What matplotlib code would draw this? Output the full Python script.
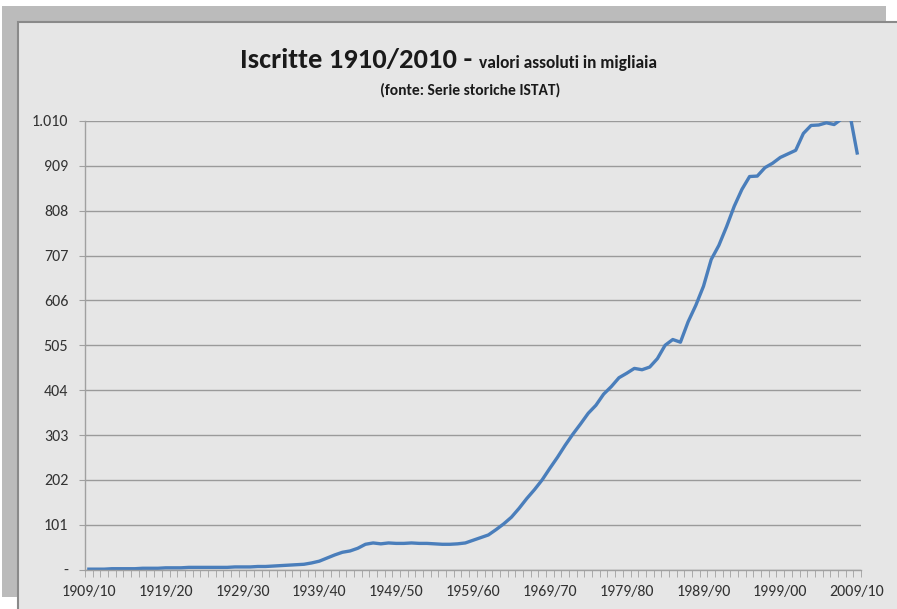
import matplotlib
matplotlib.use("Agg")
import matplotlib.pyplot as plt
from matplotlib import font_manager
from matplotlib.patches import Rectangle
from matplotlib.ticker import FixedLocator, FuncFormatter

# anni scolastici 1909/10 ... 2009/10
anni = ["%d/%02d" % (y, (y + 1) % 100) for y in range(1909, 2010)]

# iscritte, valori assoluti in migliaia
iscritte = [
    1, 1, 1, 2, 2, 2, 2, 3, 3, 3,
    4, 4, 4, 5, 5, 5, 5, 5, 5, 6,
    6, 6, 7, 7, 8, 9, 10, 11, 12, 15,
    19, 26, 33, 39, 42, 48, 57, 60, 58, 60,
    59, 59, 60, 59, 59, 58, 57, 57, 58, 60,
    66, 72, 78, 90, 103, 118, 138, 160, 180, 202,
    228, 253, 280, 305, 328, 352, 370, 395, 412, 432,
    442, 453, 450, 456, 475, 505, 518, 512, 558, 595,
    638, 698, 730, 772, 818, 856, 885, 886, 905, 915,
    928, 936, 944, 982, 1000, 1001, 1006, 1002, 1015, 1030,
    938,
]

y_ticks = [0, 101, 202, 303, 404, 505, 606, 707, 808, 909, 1010]

# un font tipo Calibri, se c'e'
installed = set(f.name for f in font_manager.fontManager.ttflist)
font = "DejaVu Sans"
for name in ["Carlito", "Liberation Sans Narrow", "PT Sans Narrow",
             "Archivo Narrow", "Open Sans Condensed", "Lato"]:
    if name in installed:
        font = name
        break
plt.rcParams['font.family'] = [font, 'DejaVu Sans']

W, H = 897, 609
fig = plt.figure(figsize=(W / 100, H / 100), dpi=100)
fig.patch.set_facecolor("white")

# cornice grigia e pannello del grafico (stile Excel)
fig.patches.append(Rectangle((2 / W, 1 - 597 / H), 884 / W, 591 / H,
                             transform=fig.transFigure, facecolor="#bbbbbb",
                             edgecolor="none", zorder=-3))
fig.patches.append(Rectangle((18 / W, -0.05), 1.0, 1.05 - 22 / H,
                             transform=fig.transFigure, facecolor="#e6e6e6",
                             edgecolor="#8a8a8a", linewidth=1.5, zorder=-2))

ax = fig.add_axes([85 / W, 1 - 569.6 / H, 776 / W, 448.6 / H])
ax.set_facecolor("none")

x = list(range(len(iscritte)))
ax.plot(x, iscritte, color="#4a7ebb", linewidth=2.4, solid_joinstyle="round")

ax.set_xlim(-0.5, len(iscritte) - 0.5)
ax.set_ylim(0, 1010)

# assi
for s in ["top", "right"]:
    ax.spines[s].set_visible(False)
for s in ["left", "bottom"]:
    ax.spines[s].set_color("#a0a0a0")
    ax.spines[s].set_linewidth(1.0)

ax.yaxis.set_major_locator(FixedLocator(y_ticks))
ax.yaxis.set_major_formatter(FuncFormatter(
    lambda v, p: "-" if v == 0 else "{:,.0f}".format(v).replace(",", ".")))
ax.grid(axis="y", color="#9a9a9a", linewidth=1.0)
ax.set_axisbelow(True)
ax.tick_params(axis="y", length=4, color="#a0a0a0", labelsize=11.5,
               labelcolor="#333333", pad=8)

ax.set_xticks(x[::10])
ax.set_xticklabels(anni[::10])
ax.set_xticks([i - 0.5 for i in range(len(iscritte) + 1)], minor=True)
ax.tick_params(axis="x", which="major", length=0, labelsize=11.5,
               labelcolor="#333333", pad=11)
ax.tick_params(axis="x", which="minor", length=5, color="#a0a0a0")

# titoli
fig.text(472 / W, 1 - 68 / H, "Iscritte 1910/2010 -", ha="right",
         va="baseline", fontsize=20.5, fontweight="bold", color="#1a1a1a")
fig.text(479 / W, 1 - 68 / H, "valori assoluti in migliaia", ha="left",
         va="baseline", fontsize=12.5, fontweight="bold", color="#1a1a1a")
fig.text(470 / W, 1 - 95 / H, "(fonte: Serie storiche ISTAT)", ha="center",
         va="baseline", fontsize=11.2, fontweight="bold", color="#1a1a1a")

fig.savefig("out.png", dpi=100)
